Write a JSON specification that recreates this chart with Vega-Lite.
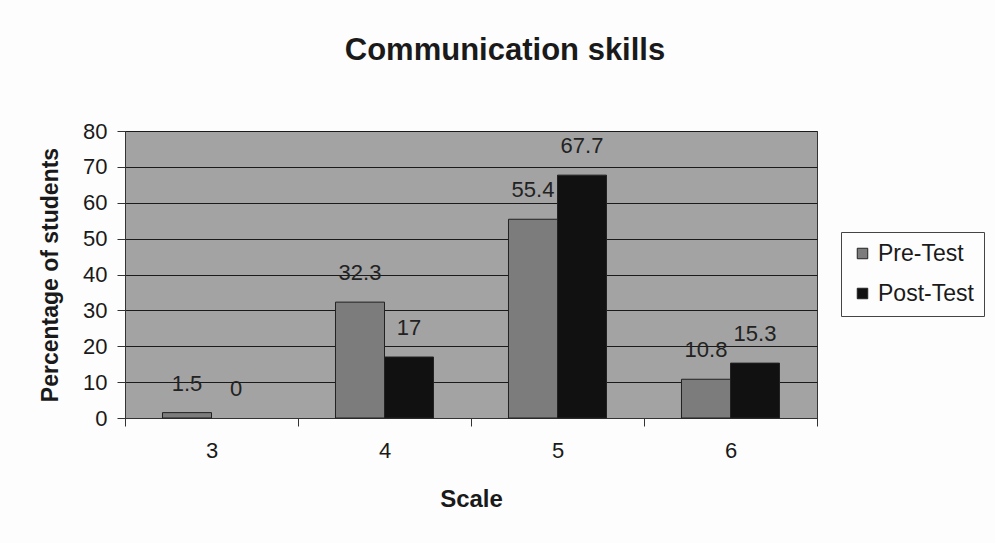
{
  "$schema": "https://vega.github.io/schema/vega-lite/v6.json",
  "autosize": "none",
  "width": 692,
  "height": 287,
  "padding": {"left": 125, "top": 131, "right": 178, "bottom": 125},
  "background": "#fdfdfd",
  "title": {"text": "Communication skills", "fontSize": 31, "font": "Liberation Sans", "fontWeight": "bold", "color": "#1a1a1a", "anchor": "middle", "dx": 34, "offset": 53},
  "data": {"values": [
    {"scale": "3", "test": "Pre-Test", "pct": 1.5},
    {"scale": "3", "test": "Post-Test", "pct": 0},
    {"scale": "4", "test": "Pre-Test", "pct": 32.3},
    {"scale": "4", "test": "Post-Test", "pct": 17},
    {"scale": "5", "test": "Pre-Test", "pct": 55.4},
    {"scale": "5", "test": "Post-Test", "pct": 67.7},
    {"scale": "6", "test": "Pre-Test", "pct": 10.8},
    {"scale": "6", "test": "Post-Test", "pct": 15.3}
  ]},
  "encoding": {
    "x": {"field": "scale", "type": "nominal", "title": "Scale",
      "scale": {"paddingInner": 0, "paddingOuter": 0},
      "axis": {"labelAngle": 0, "labelFontSize": 22, "labelFont": "Liberation Sans", "labelColor": "#1a1a1a", "labelPadding": 14,
        "titleFontSize": 24, "titleFont": "Liberation Sans", "titleFontWeight": "bold", "titleColor": "#1a1a1a", "titlePadding": 26,
        "tickBand": "extent", "tickColor": "#333", "tickSize": 8, "domainColor": "#333"}},
    "xOffset": {"field": "test", "type": "nominal", "sort": ["Pre-Test", "Post-Test"],
      "scale": {"paddingInner": 0, "paddingOuter": 0.765}},
    "y": {"field": "pct", "type": "quantitative", "title": "Percentage of students",
      "scale": {"domain": [0, 80]},
      "axis": {"values": [0, 10, 20, 30, 40, 50, 60, 70, 80], "labelFontSize": 22, "labelFont": "Liberation Sans", "labelColor": "#1a1a1a", "labelPadding": 10,
        "titleFontSize": 23, "titleFont": "Liberation Sans", "titleFontWeight": "bold", "titleColor": "#1a1a1a", "titlePadding": 20,
        "grid": true, "gridColor": "#1a1a1a", "gridWidth": 1, "gridOpacity": 1, "tickColor": "#333", "tickSize": 8, "domainColor": "#333"}}
  },
  "layer": [
    {
      "mark": {"type": "bar", "stroke": "#222", "strokeWidth": 1},
      "encoding": {
        "strokeOpacity": {"condition": {"test": "datum.pct == 0", "value": 0}, "value": 1},
        "color": {"field": "test", "type": "nominal", "sort": ["Pre-Test", "Post-Test"],
          "scale": {"domain": ["Pre-Test", "Post-Test"], "range": ["#7c7c7c", "#111111"]},
          "legend": {"title": null, "orient": "none", "legendX": 716, "legendY": 101,
            "labelFontSize": 23, "labelFont": "Liberation Sans", "labelColor": "#1a1a1a",
            "symbolType": "square", "symbolSize": 110, "symbolStrokeColor": "#222", "symbolStrokeWidth": 1,
            "rowPadding": 16, "padding": 10, "strokeColor": "#444", "fillColor": "#fdfdfd", "labelLimit": 200}}
      }
    },
    {
      "mark": {"type": "text", "baseline": "bottom", "dy": -17, "fontSize": 22, "font": "Liberation Sans", "color": "#222"},
      "encoding": {"text": {"field": "pct", "type": "quantitative"}}
    }
  ],
  "config": {
    "view": {"fill": "#a3a3a3", "stroke": "#333", "strokeWidth": 1}
  }
}
